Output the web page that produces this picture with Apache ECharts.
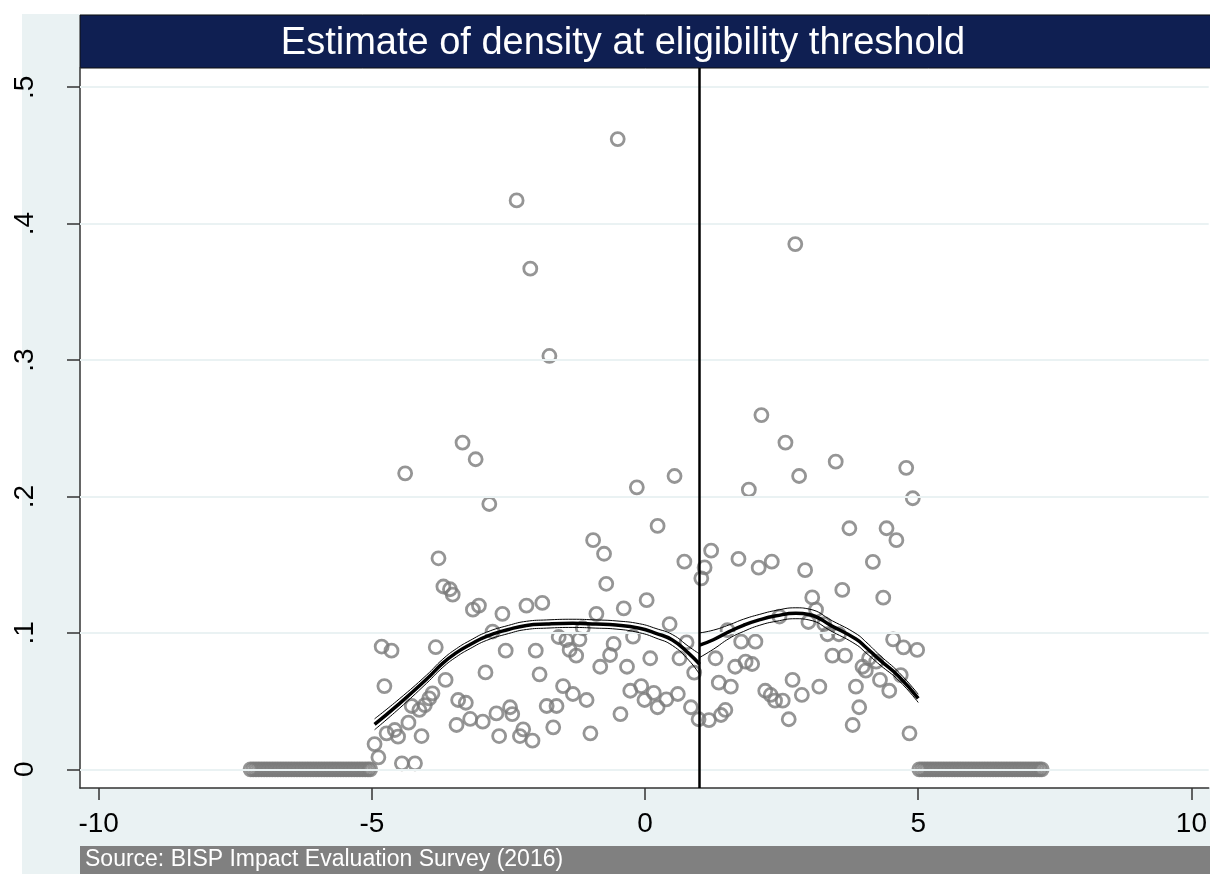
<!DOCTYPE html>
<html lang="en">
<head>
  <meta charset="UTF-8">
  <title>Estimate of density at eligibility threshold</title>
  <script src="https://cdn.jsdelivr.net/npm/echarts@6/dist/echarts.min.js"></script>
  <style>
    body { margin: 0; padding: 0; background: #fff; }
    #chart { width: 1210px; height: 874px; }
  </style>
</head>
<body>
  <div id="chart"></div>
  <script>
    // tick values
    var xTicks = [-10, -5, 0, 5, 10];
    var yTicks = [0, 0.1, 0.2, 0.3, 0.4, 0.5];
    var threshold = 1;

    // binned density points (score, density)
    var dotsX = [
      -4.95, -4.88, -4.82, -4.77, -4.73, -4.64, -4.58, -4.52, -4.45, -4.39,
      -4.33, -4.27, -4.21, -4.13, -4.09, -4.03, -3.95, -3.89, -3.83, -3.78,
      -3.69, -3.65, -3.57, -3.52, -3.45, -3.42, -3.34, -3.28, -3.20, -3.15,
      -3.10, -3.04, -2.97, -2.92, -2.85, -2.79, -2.72, -2.67, -2.61, -2.55,
      -2.47, -2.43, -2.35, -2.29, -2.23, -2.17, -2.10, -2.06, -2.00, -1.93,
      -1.88, -1.80, -1.75, -1.68, -1.62, -1.58, -1.50, -1.44, -1.38, -1.32,
      -1.26, -1.20, -1.14, -1.07, -1.00, -0.95, -0.89, -0.82, -0.75, -0.71,
      -0.64, -0.575, -0.50, -0.45, -0.39, -0.33, -0.27, -0.22, -0.15, -0.07,
      -0.01, 0.03, 0.095, 0.16, 0.23, 0.23, 0.39, 0.45, 0.54, 0.60,
      0.63, 0.72, 0.76, 0.84, 0.90, 0.98,
      1.03, 1.09, 1.17, 1.21, 1.29, 1.35, 1.39, 1.47, 1.51, 1.57,
      1.65, 1.71, 1.76, 1.84, 1.90, 1.96, 2.02, 2.08, 2.13, 2.20,
      2.30, 2.32, 2.38, 2.46, 2.52, 2.57, 2.63, 2.70, 2.75, 2.82,
      2.87, 2.93, 2.99, 3.06, 3.13, 3.19, 3.28, 3.34, 3.43, 3.49,
      3.55, 3.61, 3.66, 3.74, 3.80, 3.86, 3.92, 3.98, 4.04, 4.10,
      4.17, 4.23, 4.30, 4.36, 4.42, 4.47, 4.54, 4.60, 4.68, 4.73,
      4.78, 4.84, 4.90, 4.98
    ];
    var dotsY = [
      0.0185, 0.0088, 0.090, 0.061, 0.0264, 0.087, 0.0288, 0.0239, 0.0044, 0.217,
      0.0342, 0.0464, 0.0044, 0.0435, 0.0244, 0.0471, 0.052, 0.0557, 0.0895, 0.1547,
      0.134, 0.0655, 0.132, 0.128, 0.0325, 0.0508, 0.2395, 0.0488, 0.0369, 0.117,
      0.2273, 0.120, 0.0349, 0.071, 0.1945, 0.101, 0.041, 0.0244, 0.114, 0.087,
      0.0455, 0.0405, 0.417, 0.0244, 0.0293, 0.120, 0.367, 0.021, 0.087, 0.0696,
      0.122, 0.0464, 0.303, 0.0308, 0.0464, 0.097, 0.061, 0.0948, 0.0875, 0.0552,
      0.0833, 0.0953, 0.1034, 0.0508, 0.0264, 0.168, 0.114, 0.0752, 0.158, 0.136,
      0.0838, 0.0919, 0.462, 0.0405, 0.118, 0.0752, 0.0576, 0.0972, 0.2067, 0.061,
      0.0508, 0.124, 0.0814, 0.056, 0.0455, 0.1784, 0.0513, 0.1065, 0.215, 0.0552,
      0.0814, 0.1522, 0.093, 0.0455, 0.0709, 0.0367,
      0.140, 0.148, 0.0361, 0.1603, 0.0814, 0.0635, 0.0398, 0.0435, 0.102, 0.0606,
      0.0752, 0.1542, 0.0936, 0.0789, 0.205, 0.0772, 0.0936, 0.1478, 0.2597, 0.0576,
      0.0545, 0.1522, 0.0503, 0.112, 0.0503, 0.2395, 0.0367, 0.0655, 0.385, 0.215,
      0.0545, 0.146, 0.108, 0.126, 0.117, 0.0606, 0.1065, 0.099, 0.0833, 0.2255,
      0.099, 0.1315, 0.0833, 0.1767, 0.0325, 0.0606, 0.0455, 0.0752, 0.0723, 0.0814,
      0.152, 0.0789, 0.0655, 0.1258, 0.1767, 0.0576, 0.0953, 0.168, 0.0691, 0.0894,
      0.221, 0.0264, 0.1987, 0.0875
    ];
    // empty bins outside the bandwidth (density 0)
    var zeroX = [
      -7.22, -7.17, -7.12, -7.07, -7.02, -6.97, -6.92, -6.87, -6.82, -6.77,
      -6.72, -6.67, -6.62, -6.57, -6.52, -6.47, -6.42, -6.37, -6.32, -6.27,
      -6.22, -6.17, -6.12, -6.07, -6.02, -5.97, -5.92, -5.87, -5.82, -5.77,
      -5.72, -5.67, -5.62, -5.57, -5.52, -5.47, -5.42, -5.37, -5.32, -5.27,
      -5.22, -5.17, -5.12, -5.07, -5.03,
      5.02, 5.07, 5.12, 5.17, 5.22, 5.27, 5.32, 5.37, 5.42, 5.47,
      5.52, 5.57, 5.62, 5.67, 5.72, 5.77, 5.82, 5.87, 5.92, 5.97,
      6.02, 6.07, 6.12, 6.17, 6.22, 6.27, 6.32, 6.37, 6.42, 6.47,
      6.52, 6.57, 6.62, 6.67, 6.72, 6.77, 6.82, 6.87, 6.92, 6.97,
      7.02, 7.07, 7.12, 7.17, 7.22, 7.26
    ];

    // local fit left of threshold
    var fitLX = [-4.95, -4.5, -4.0, -3.7, -3.45, -3.2, -2.9, -2.5, -2.17, -1.8, -1.32, -0.9, -0.53, -0.1, 0.2, 0.5, 0.8, 1.0];
    var fitLY = [0.033, 0.048, 0.066, 0.0778, 0.0855, 0.0915, 0.0975, 0.1025, 0.1055, 0.1065, 0.107, 0.1065, 0.1058, 0.1034, 0.0997, 0.0948, 0.085, 0.077];
    var fitLU = [0.037, 0.0515, 0.069, 0.0808, 0.0885, 0.0945, 0.1005, 0.1055, 0.1085, 0.1095, 0.11, 0.1095, 0.1088, 0.1067, 0.1032, 0.0988, 0.09, 0.0845];
    var fitLL = [0.029, 0.0445, 0.063, 0.0748, 0.0825, 0.0885, 0.0945, 0.0995, 0.1025, 0.1035, 0.104, 0.1035, 0.1028, 0.1001, 0.0962, 0.0908, 0.08, 0.0695];
    // local fit right of threshold
    var fitRX = [1.0, 1.25, 1.54, 1.8, 2.09, 2.4, 2.76, 3.0, 3.43, 3.86, 4.04, 4.3, 4.65, 5.0];
    var fitRY = [0.091, 0.095, 0.1009, 0.1055, 0.1095, 0.1125, 0.1144, 0.1135, 0.1048, 0.0955, 0.0895, 0.080, 0.0679, 0.052];
    var fitRU = [0.100, 0.102, 0.1059, 0.11, 0.1135, 0.1165, 0.1184, 0.1175, 0.1088, 0.0995, 0.0935, 0.0835, 0.0709, 0.055];
    var fitRL = [0.082, 0.088, 0.0959, 0.101, 0.1055, 0.1085, 0.1104, 0.1095, 0.1008, 0.0915, 0.0855, 0.0765, 0.0649, 0.049];

    function pairs(xs, ys) {
      return xs.map(function (x, i) { return [x, ys[i]]; });
    }

    var font = '"Liberation Sans", Arial, sans-serif';
    var chart = echarts.init(document.getElementById('chart'));

    function fitLine(xs, ys, width) {
      return {
        type: 'line',
        data: pairs(xs, ys),
        showSymbol: false,
        smooth: 0.5,
        lineStyle: { color: '#000', width: width },
        z: 5,
        silent: true
      };
    }

    var option = {
      backgroundColor: '#ffffff',
      animation: false,
      graphic: [
        { type: 'rect', shape: { x: 22, y: 14, width: 1188, height: 860 }, style: { fill: '#eaf2f3' }, z: -20 },
        { type: 'rect', shape: { x: 80, y: 68, width: 1130, height: 720 }, style: { fill: '#ffffff' }, z: -19 },
        { type: 'rect', shape: { x: 80, y: 15, width: 1132, height: 53 }, style: { fill: '#0f1f52', stroke: '#111', lineWidth: 1 }, z: -18 },
        { type: 'rect', shape: { x: 80, y: 846, width: 1130, height: 28 }, style: { fill: '#808080' }, z: -18 },
        { type: 'text', x: 85, y: 860, style: { text: 'Source: BISP Impact Evaluation Survey (2016)', fill: '#ffffff', font: '23px ' + font, textVerticalAlign: 'middle' }, z: 10 }
      ],
      title: {
        text: 'Estimate of density at eligibility threshold',
        left: 618,
        top: 20,
        textAlign: 'center',
        textStyle: { color: '#ffffff', fontSize: 38, fontWeight: 'normal', fontFamily: font }
      },
      grid: { left: 80, right: 0, top: 68, bottom: 86, containLabel: false },
      xAxis: {
        type: 'value',
        min: -10.341,
        max: 10.316,
        axisLine: { show: true, onZero: false, lineStyle: { color: '#333', width: 1.5 } },
        axisTick: { show: true, length: 12, customValues: xTicks, lineStyle: { color: '#333', width: 1.5 } },
        axisLabel: { customValues: xTicks, fontSize: 28, color: '#000', fontFamily: font, margin: 22 },
        splitLine: { show: false }
      },
      yAxis: {
        type: 'value',
        min: -0.0137,
        max: 0.5141,
        axisLine: { show: true, onZero: false, lineStyle: { color: '#333', width: 1.5 } },
        axisTick: { show: true, length: 13, customValues: yTicks, lineStyle: { color: '#333', width: 1.5 } },
        axisLabel: {
          customValues: yTicks,
          rotate: 90,
          fontSize: 28,
          color: '#000',
          fontFamily: font,
          margin: 41,
          formatter: function (v) { return v === 0 ? '0' : String(v).replace('0.', '.'); }
        },
        splitLine: { show: false }
      },
      series: [
        {
          type: 'line',
          data: [],
          silent: true,
          z: 1,
          markLine: {
            silent: true,
            symbol: ['none', 'none'],
            label: { show: false },
            lineStyle: { color: '#eaf2f3', width: 2, type: 'solid' },
            data: yTicks.map(function (v) { return { yAxis: v }; })
          }
        },
        {
          type: 'scatter',
          data: pairs(dotsX, dotsY).concat(zeroX.map(function (x) { return [x, 0]; })),
          symbol: 'circle',
          symbolSize: 13,
          itemStyle: { color: 'rgba(0,0,0,0)', borderColor: '#7a7a7a', borderWidth: 2.8 },
          z: 3,
          silent: true
        },
        fitLine(fitLX, fitLU, 1),
        fitLine(fitLX, fitLL, 1),
        fitLine(fitLX, fitLY, 3.5),
        fitLine(fitRX, fitRU, 1),
        fitLine(fitRX, fitRL, 1),
        fitLine(fitRX, fitRY, 3.5),
        {
          type: 'line',
          data: [],
          silent: true,
          z: 6,
          markLine: {
            silent: true,
            symbol: ['none', 'none'],
            label: { show: false },
            lineStyle: { color: '#000', width: 2.5, type: 'solid' },
            data: [{ xAxis: threshold }]
          }
        }
      ]
    };

    chart.setOption(option);
  </script>
</body>
</html>
